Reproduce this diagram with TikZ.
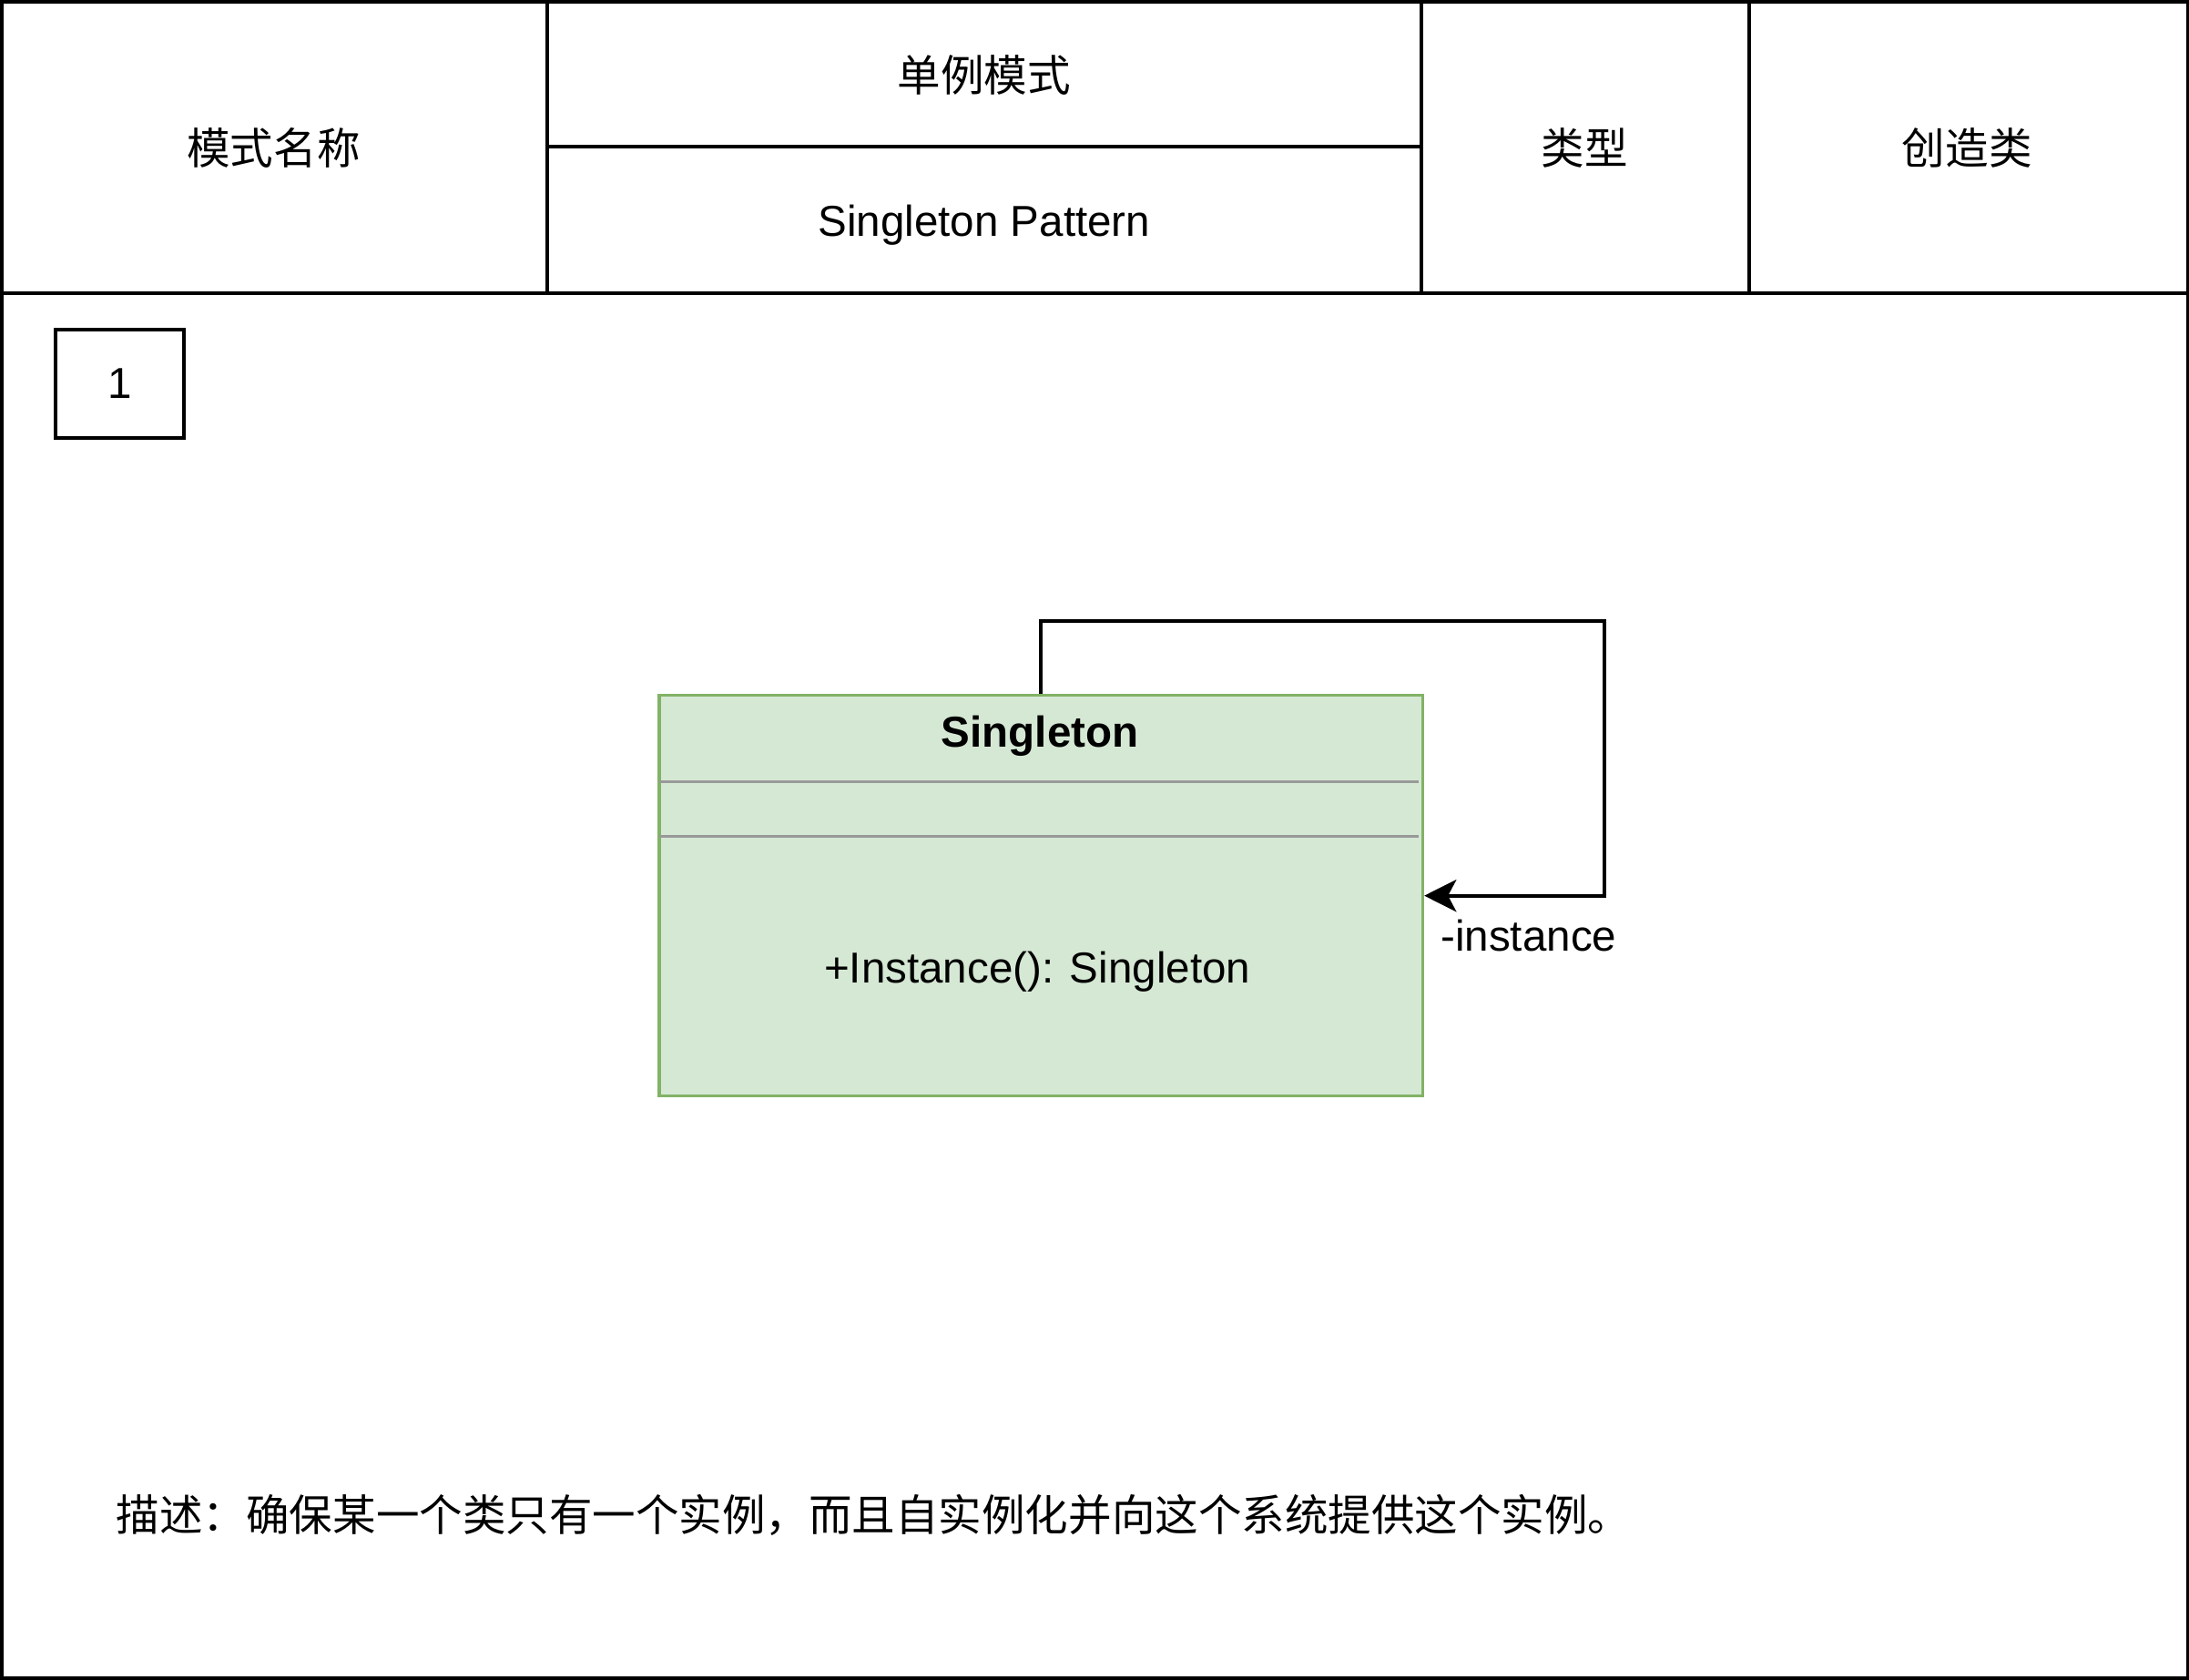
\documentclass[tikz,border=0pt]{standalone}
\usepackage{fontspec}
\setmainfont{Liberation Sans}
\newfontfamily\cjk{Noto Sans CJK SC}
\usetikzlibrary{arrows.meta}
\usetikzlibrary{positioning}
\definecolor{umlfill}{HTML}{D5E8D4}
\definecolor{umlline}{HTML}{82B366}
\definecolor{sepgray}{HTML}{999999}
\tikzset{
	frame/.style={line width=1.3pt, black},
	label/.style={font=\fontsize{15.5pt}{18pt}\selectfont, inner sep=0pt},
	classbox/.style={draw=umlline, fill=umlfill, line width=1.1pt, anchor=north west,
		minimum width=273.5pt, minimum height=143.5pt, inner sep=0pt},
	assoc/.style={line width=1.3pt, -{Stealth[length=11.5pt, width=11.5pt, inset=3pt]}}
}

\begin{document}
\begin{tikzpicture}[x=0.5pt, y=-0.5pt]
	\useasboundingbox (0,0) rectangle (1568,1203);
	% draw table frame
	\draw[frame] (1,1) rectangle (1567,1202);
	\draw[frame] (1,210) -- (1567,210);
	\draw[frame] (392,1) -- (392,210);
	\draw[frame] (1018,1) -- (1018,210);
	\draw[frame] (1253,1) -- (1253,210);
	\draw[frame] (392,105) -- (1018,105);
	% header texts
	\node[label] (name) at (196,106) {\cjk 模式名称};
	\node[label] (namecn) at (705,54) {\cjk 单例模式};
	\node[label] (nameen) at (705,161) {Singleton Pattern};
	\node[label] (type) at (1135,106) {\cjk 类型};
	\node[label] (typeval) at (1409,106) {\cjk 创造类};
	% number box
	\node[label, draw, line width=1.3pt, minimum width=46pt, minimum height=39pt] (num) at (86,275) {1};
	% class box
	\node[classbox] (singleton) at (471,497) {};
	\node[label, font=\fontsize{15.5pt}{18pt}\selectfont\bfseries] (classname) at (745,527) {Singleton};
	\draw[sepgray, line width=1.2pt] (472,560) -- (1016,560);
	\draw[sepgray, line width=1.2pt] (472,599) -- (1016,599);
	\node[label] (method) at (743,696) {+Instance(): Singleton};
	% self association
	\coordinate (loop) at (1149,445);
	\draw[assoc] (singleton.north) |- (loop) |- (singleton.east);
	\node[label] (inst) at (1095,670) {-instance};
	% description
	\node[label, anchor=west] (desc) at (83,1085) {\cjk 描述：确保某一个类只有一个实例，而且自实例化并向这个系统提供这个实例。};
\end{tikzpicture}
\end{document}
